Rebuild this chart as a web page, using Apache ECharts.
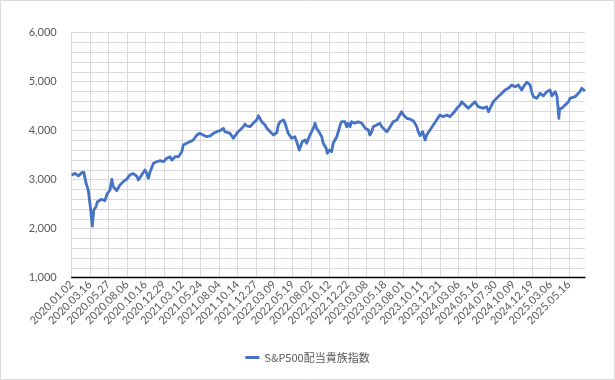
<!DOCTYPE html>
<html><head><meta charset="utf-8">
<script src="https://cdn.jsdelivr.net/npm/echarts@6/dist/echarts.min.js"></script>
<style>html,body{margin:0;padding:0;background:#fff}#c{width:615px;height:380px}</style>
</head><body><div id="c"></div>
<script>
// Tick labels (every 50 trading days)
const dateLabels = ['2020.01.02','2020.03.16','2020.05.27','2020.08.06','2020.10.16','2020.12.29',
 '2021.03.12','2021.05.24','2021.08.04','2021.10.14','2021.12.27','2022.03.09','2022.05.19',
 '2022.08.02','2022.10.12','2022.12.22','2023.03.08','2023.05.18','2023.08.01','2023.10.11',
 '2023.12.21','2024.03.06','2024.05.16','2024.07.30','2024.10.09','2024.12.19','2025.03.06','2025.05.16'];
const lastTradingDay = 1394;
const seriesName = 'S&P500配当貴族指数';
// Trading-day number (0 = 2020.01.02) of each sampled point
const tradingDay = [0,2,9,18,27,33,39,45,50,52,56,60,66,70,81,90,97,104,109,113,122,131,140,149,
 158,167,177,181,190,199,204,208,213,222,231,240,249,258,267,272,281,290,299,303,312,321,330,340,348,357,367,
 376,385,394,403,412,416,421,430,439,444,452,462,471,475,484,493,502,507,511,516,525,530,539,543,548,557,
 561,566,575,579,584,588,593,597,602,606,611,618,622,626,634,638,647,656,661,665,674,679,683,691,694,700,706,710,715,720,729,733,
 742,747,751,756,760,769,774,778,788,797,806,810,815,819,828,837,842,846,856,860,865,873,883,887,896,901,910,
 919,928,932,937,941,946,953,957,960,964,973,982,991,1000,1009,1019,1027,1036,1046,1055,1059,1064,1068,1077,1086,1095,1104,1109,1118,1127,1132,1136,
 1145,1154,1159,1168,1177,1186,1195,1199,1204,1213,1222,1227,1236,1240,1245,1249,1254,1263,1272,1281,1290,1299,1304,1313,1318,1321,1323,1325,1331,1340,1349,1353,1358,1367,1372,1380,1385,1390,1394];
// Index values
const indexValue = [3090,3110,3130,3075,3143,3150,2927,2790,2484,2347,2055,2382,2450,2551,2600,2571,2722,2790,3008,2857,2776,2892,2959,3008,
 3100,3125,3070,2994,3096,3198,3130,3028,3163,3335,3367,3388,3367,3437,3469,3402,3469,3469,3571,3708,3743,3776,3810,3912,3947,3912,3878,
 3892,3947,3980,4000,4049,3980,4014,3947,3845,3878,3980,4049,4137,4096,4082,4151,4218,4306,4253,4184,4116,4049,3980,4000,3912,3960,
 4116,4184,4218,4163,4137,3947,3980,3845,3810,3878,3776,3606,3571,3776,3810,3743,3912,4049,4151,4049,3947,3878,3743,3641,3539,3606,3571,3743,3810,3878,4116,4184,
 4184,4082,4151,4082,4184,4151,4116,4184,4151,4049,4014,3912,3980,4082,4116,4151,4082,4116,3980,3947,4082,4184,4218,4253,4388,4320,4253,
 4235,4200,4151,4082,3980,3900,3980,3878,3810,3912,4014,4116,4218,4320,4286,4320,4286,4355,4457,4524,4592,4627,4524,4457,4524,4592,4490,4470,4457,4490,4388,4420,
 4592,4661,4627,4763,4831,4865,4933,4967,4898,4933,4831,4898,4990,4970,4933,4796,4694,4661,4763,4710,4796,4831,4710,4796,4700,4450,4250,4450,4457,4524,4592,4661,4627,4694,4661,4796,4865,4831,4810];
const yTicks = {min:1000, max:6000, step:1000};

const font = "Lato, 'Noto Sans CJK JP', sans-serif";
const chart = echarts.init(document.getElementById('c'), null, {renderer:'canvas'});
chart.setOption({
  animation:false,
  backgroundColor:'#fff',
  graphic:[{type:'rect', shape:{x:0.5,y:0.5,width:614,height:379}, style:{fill:'none', stroke:'#d9d9d9', lineWidth:1}}],
  grid:{left:71.7, right:30, top:32.7, bottom:102.3, containLabel:false},
  legend:{top:347, left:'center', itemWidth:14, itemHeight:3, itemGap:6,
    icon:'rect', textStyle:{color:'#595959', fontSize:11, fontFamily:"'Noto Sans CJK JP', sans-serif"},
    data:[seriesName]},
  xAxis:{type:'value', min:0, max:lastTradingDay, interval:50,
    axisLine:{show:true, lineStyle:{color:'#000', width:1.3}},
    axisTick:{show:false},
    axisLabel:{rotate:45, margin:5, color:'#595959', fontSize:11, fontFamily:font, showMaxLabel:false,
      formatter:v => (v % 50 === 0 && dateLabels[v/50]) ? dateLabels[v/50] : ''},
    splitLine:{show:true, showMaxLine:false, lineStyle:{color:'#d9d9d9', width:1}}},
  yAxis:{type:'value', min:yTicks.min, max:yTicks.max, interval:yTicks.step,
    axisLine:{show:false}, axisTick:{show:false},
    axisLabel:{margin:15, color:'#595959', fontSize:11, fontFamily:font,
      formatter:v => v.toLocaleString('en-US')},
    splitLine:{show:true, lineStyle:{color:'#d9d9d9', width:1}},
    minorTick:{show:false, splitNumber:5},
    minorSplitLine:{show:true, lineStyle:{color:'#d9d9d9', width:1}}},
  series:[{name:seriesName, type:'line', showSymbol:false, symbol:'none',
    lineStyle:{color:'#4472C4', width:2.8, join:'round'}, itemStyle:{color:'#4472C4'},
    data:tradingDay.map((d,i)=>[d, indexValue[i]])}]
});
</script></body></html>
